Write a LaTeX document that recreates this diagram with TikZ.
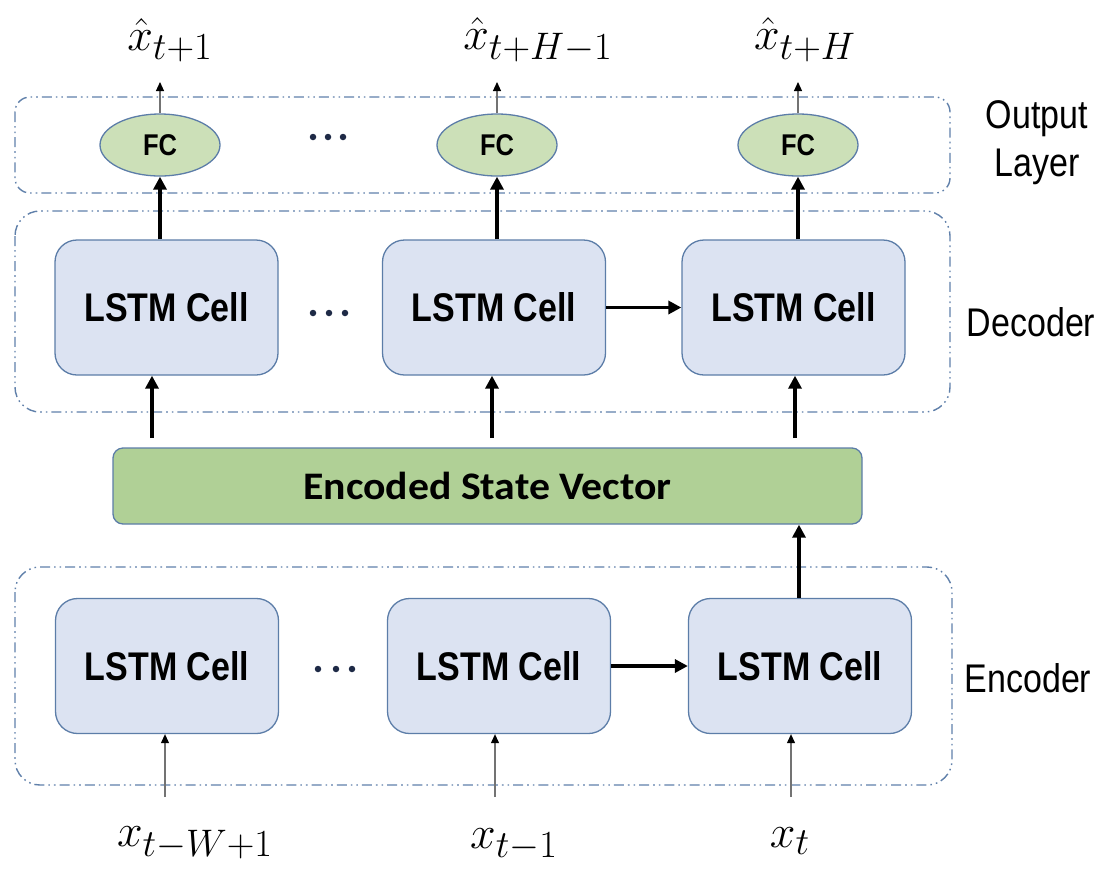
\documentclass[tikz,border=0pt]{standalone}
\usepackage{fontspec}
\usetikzlibrary{arrows.meta,shapes.geometric}
\newfontfamily\cellfont[FakeStretch=0.85]{Liberation Sans}
\newfontfamily\esvfont[FakeStretch=1.07]{Carlito}
\definecolor{grpblue}{RGB}{96,128,170}
\definecolor{cellfill}{RGB}{220,227,242}
\definecolor{cellline}{RGB}{92,125,168}
\definecolor{fcfill}{RGB}{204,224,184}
\definecolor{esvfill}{RGB}{176,208,150}
\definecolor{dotcol}{RGB}{30,42,70}
\tikzset{
  groupbox/.style={draw=grpblue, line width=1.4pt,
    dash pattern=on 10pt off 4pt on 1.6pt off 4pt on 1.6pt off 4pt},
  lstmcell/.style={draw=cellline, fill=cellfill, line width=1.3pt, rounded corners=22pt,
    minimum width=223pt, minimum height=135pt, inner sep=0pt,
    font=\cellfont\bfseries\fontsize{40}{44}\selectfont},
  fcnode/.style={ellipse, draw=cellline, fill=fcfill, line width=1.3pt,
    minimum width=120pt, minimum height=62pt, inner sep=0pt,
    font=\cellfont\bfseries\fontsize{30}{34}\selectfont},
  esvbox/.style={draw=cellline, fill=esvfill, line width=1.3pt, rounded corners=10pt,
    minimum width=749pt, minimum height=76pt, inner sep=0pt,
    font=\esvfont\bfseries\fontsize{39}{42}\selectfont},
  sidelabel/.style={font=\cellfont\fontsize{40}{48}\selectfont, align=center, inner sep=0pt},
  mathlabel/.style={font=\fontsize{24.88}{28}\selectfont, inner sep=0pt},
  thickarrow/.style={line width=3.6pt, -{Triangle[length=13pt,width=13pt]}},
  thinarrow/.style={draw=black!55, line width=1.1pt, -{Triangle[black,length=9pt,width=8pt]}},
  dotmark/.style={circle, fill=dotcol, inner sep=0pt, minimum size=6.5pt},
}
\newcommand{\biglabel}[1]{\scalebox{1.85}{$#1$}}
\begin{document}
\begin{tikzpicture}[x=1pt,y=-1pt]
\useasboundingbox (0,0) rectangle (1102,871);
% group boxes
\draw[groupbox, rounded corners=15pt] (15,97) rectangle (950,193);
\draw[groupbox, rounded corners=25pt] (15,211) rectangle (950,412);
\draw[groupbox, rounded corners=25pt] (15,567) rectangle (952,785);
% side labels
\node[sidelabel] (lout) at (1037,143) {Output\\Layer};
\node[sidelabel] (ldec) at (1031,322) {Decoder};
\node[sidelabel] (lenc) at (1028,678) {Encoder};
% output layer
\node[fcnode] (fc1) at (160,145) {FC};
\node[fcnode] (fc2) at (497,145) {FC};
\node[fcnode] (fc3) at (798,145) {FC};
\node[dotmark] (od1) at (313,137) {};
\node[dotmark] (od2) at (328,137) {};
\node[dotmark] (od3) at (343,137) {};
% outputs
\node[mathlabel] (y1) at (170,40) {\biglabel{\hat{x}_{t+1}}};
\node[mathlabel] (y2) at (538,40) {\biglabel{\hat{x}_{t+H-1}}};
\node[mathlabel] (y3) at (805,40) {\biglabel{\hat{x}_{t+H}}};
\coordinate (o1) at (160,82);
\coordinate (o2) at (497,82);
\coordinate (o3) at (798,82);
\draw[thinarrow] (fc1.north) -- (o1);
\draw[thinarrow] (fc2.north) -- (o2);
\draw[thinarrow] (fc3.north) -- (o3);
% decoder
\node[lstmcell] (d1) at (166.5,307.5) {LSTM Cell};
\node[lstmcell] (d2) at (494,307.5) {LSTM Cell};
\node[lstmcell] (d3) at (793.5,307.5) {LSTM Cell};
\node[dotmark] (dd1) at (313,313) {};
\node[dotmark] (dd2) at (329,313) {};
\node[dotmark] (dd3) at (345,313) {};
\draw[thickarrow] (d2.east) -- (d3.west);
\draw[thickarrow] (fc1.south |- d1.north) -- (fc1.south);
\draw[thickarrow] (fc2.south |- d2.north) -- (fc2.south);
\draw[thickarrow] (fc3.south |- d3.north) -- (fc3.south);
% encoded state vector
\node[esvbox] (esv) at (487.5,486) {Encoded State Vector};
\coordinate (s1) at (152,438);
\coordinate (s2) at (492,438);
\coordinate (s3) at (795,438);
\draw[thickarrow] (s1) -- (s1 |- d1.south);
\draw[thickarrow] (s2) -- (s2 |- d2.south);
\draw[thickarrow] (s3) -- (s3 |- d3.south);
% encoder
\node[lstmcell] (e1) at (167,666) {LSTM Cell};
\node[lstmcell] (e2) at (499,666) {LSTM Cell};
\node[lstmcell] (e3) at (800,666) {LSTM Cell};
\node[dotmark] (ed1) at (318,669) {};
\node[dotmark] (ed2) at (336,669) {};
\node[dotmark] (ed3) at (352,669) {};
\draw[thickarrow] (e2.east) -- (e3.west);
\draw[thickarrow] (e3.north -| 799,0) -- (esv.south -| 799,0);
% inputs
\node[mathlabel] (x1) at (195,843) {\biglabel{x_{t-W+1}}};
\node[mathlabel] (x2) at (514,845) {\biglabel{x_{t-1}}};
\node[mathlabel] (x3) at (790,841) {\biglabel{x_{t}}};
\coordinate (i1) at (165,797);
\coordinate (i2) at (495,797);
\coordinate (i3) at (791,797);
\draw[thinarrow] (i1) -- (i1 |- e1.south);
\draw[thinarrow] (i2) -- (i2 |- e2.south);
\draw[thinarrow] (i3) -- (i3 |- e3.south);
\end{tikzpicture}
\end{document}
